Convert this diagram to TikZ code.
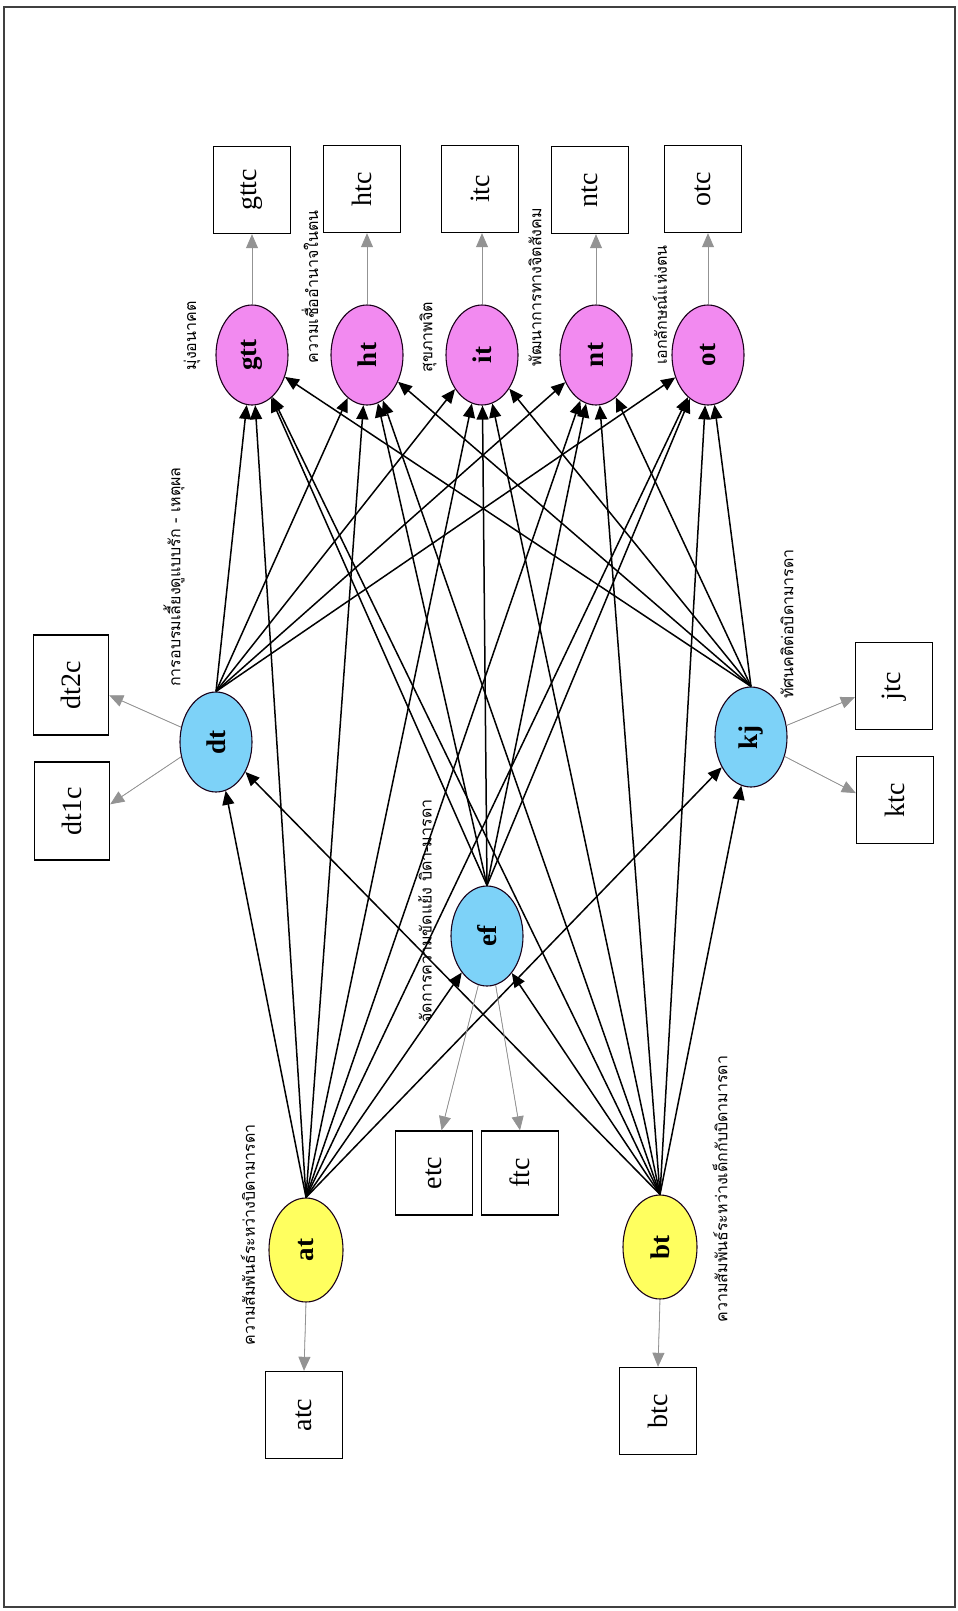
\documentclass[tikz,border=0pt]{standalone}
\usepackage{fontspec}
\setmainfont{Liberation Serif}
\newfontfamily\thai[Script=Thai]{Loma}
\usetikzlibrary{arrows.meta,shapes.geometric}
\definecolor{ylw}{RGB}{255,255,95}
\definecolor{blu}{RGB}{125,210,248}
\definecolor{pnk}{RGB}{242,138,240}
\newcommand\myrot[1]{\rotatebox{90}{#1}}
\tikzset{
  box/.style={draw=black, line width=1.4pt, minimum width=77pt, minimum height=87pt, inner sep=0pt, font=\fontsize{28}{30}\selectfont},
  ell/.style={ellipse, draw=black!80!violet, line width=1.1pt, minimum width=72pt, minimum height=100pt, inner sep=0pt, font=\bfseries\fontsize{27}{29}\selectfont},
  lab/.style={inner sep=0pt, font=\thai\fontsize{16}{18}\selectfont},
  arr/.style={-{Triangle[length=14pt,width=12pt]}, line width=1.5pt, black},
  garr/.style={-{Triangle[length=14pt,width=12pt]}, line width=0.8pt, draw=gray!85, fill=black},
}
\begin{document}
\begin{tikzpicture}[x=1pt,y=-1pt]
\useasboundingbox (0,0) rectangle (958,1611);
\draw[line width=1.6pt, black!75] (4,7) rectangle (955,1607);

% top boxes
\node[box] (gttc) at (252,190) {\myrot{gttc}};
\node[box] (htc)  at (362,189) {\myrot{htc}};
\node[box] (itc)  at (480,189) {\myrot{itc}};
\node[box] (ntc)  at (590,190) {\myrot{ntc}};
\node[box] (otc)  at (703,189) {\myrot{otc}};
% outcome ellipses
\node[ell, fill=pnk] (gtt) at (252,355) {\myrot{gtt}};
\node[ell, fill=pnk] (ht)  at (367,355) {\myrot{ht}};
\node[ell, fill=pnk] (it)  at (482,355) {\myrot{it}};
\node[ell, fill=pnk] (nt)  at (596,355) {\myrot{nt}};
\node[ell, fill=pnk] (ot)  at (708,355) {\myrot{ot}};
% mediators
\node[ell, fill=blu] (dt) at (216,742) {\myrot{dt}};
\node[ell, fill=blu] (kj) at (751,737) {\myrot{kj}};
\node[ell, fill=blu] (ef) at (487,936) {\myrot{ef}};
% sources
\node[ell, fill=ylw, minimum width=74pt, minimum height=104pt] (at) at (306,1250) {\myrot{at}};
\node[ell, fill=ylw, minimum width=74pt, minimum height=104pt] (bt) at (660,1247) {\myrot{bt}};
% side boxes
\node[box, minimum height=100pt, minimum width=75pt] (dt2c) at (71,685) {\myrot{dt2c}};
\node[box, minimum height=98pt, minimum width=75pt] (dt1c) at (72,811) {\myrot{dt1c}};
\node[box] (jtc) at (894,686) {\myrot{jtc}};
\node[box] (ktc) at (895,800) {\myrot{ktc}};
\node[box, minimum height=84pt] (etc) at (434,1173) {\myrot{etc}};
\node[box, minimum height=84pt] (ftc) at (520,1173) {\myrot{ftc}};
\node[box] (atc) at (304,1415) {\myrot{atc}};
\node[box] (btc) at (658,1411) {\myrot{btc}};

% Thai labels
\node[lab] (l1) at (192,336) {\myrot{มุ่งอนาคต}};
\node[lab] (l2) at (310,287) {\myrot{ความเชื่ออำนาจในตน}};
\node[lab] (l3) at (428,337) {\myrot{สุขภาพจิต}};
\node[lab] (l4) at (535,287) {\myrot{พัฒนาการทางจิตสังคม}};
\node[lab] (l5) at (660,305) {\myrot{เอกลักษณ์แห่งตน}};
\node[lab] (l6) at (174,577) {\myrot{การอบรมเลี้ยงดูแบบรัก - เหตุผล}};
\node[lab] (l7) at (425,911) {\myrot{จัดการความขัดแย้ง บิดา-มารดา}};
\node[lab] (l8) at (787,624) {\myrot{ทัศนคติต่อบิดามารดา}};
\node[lab] (l9) at (248,1235) {\myrot{ความสัมพันธ์ระหว่างบิดามารดา}};
\node[lab] (l10) at (720,1189) {\myrot{ความสัมพันธ์ระหว่างเด็กกับบิดามารดา}};

% outcome -> boxes
\foreach \t/\b in {gtt/gttc,ht/htc,it/itc,nt/ntc,ot/otc}
  \draw[garr] (\t.north) -- (\t.north |- \b.south);

% main paths
\foreach \s in {at,bt,dt,ef,kj}
  \foreach \t in {gtt,ht,it,nt,ot}
    \draw[arr] (\s.north) -- (\t);
\foreach \s in {at,bt}
  \foreach \t in {dt,ef,kj}
    \draw[arr] (\s.north) -- (\t);

% side arrows
\draw[garr] (dt.157) -- (dt2c.-15);
\draw[garr] (dt.203) -- (dt1c.10);
\draw[garr] (kj.18) -- (jtc.196);
\draw[garr] (kj.-30) -- (ktc.170);
\draw[garr] (ef.-100) -- (etc.80);
\draw[garr] (ef.-80) -- (ftc.north);
\draw[garr] (at.south) -- (atc.north);
\draw[garr] (bt.south) -- (btc.north);
\end{tikzpicture}
\end{document}
